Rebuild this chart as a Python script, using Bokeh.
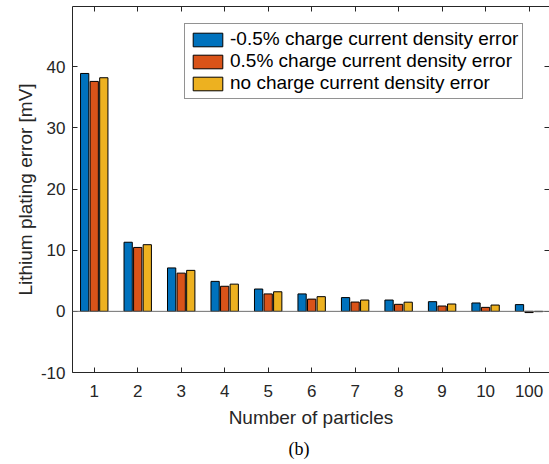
from bokeh.plotting import figure
from bokeh.models import LinearAxis, FixedTicker, Span, Title, Range1d
from bokeh.embed import file_html
from bokeh.resources import INLINE

# ---- data ----
categories = ["1", "2", "3", "4", "5", "6", "7", "8", "9", "10", "100"]
series_names = ["-0.5% charge current density error",
                "0.5% charge current density error",
                "no charge current density error"]
neg_err = [38.9, 11.3, 7.1, 4.9, 3.65, 2.85, 2.25, 1.85, 1.58, 1.37, 1.1]
pos_err = [37.6, 10.45, 6.25, 4.1, 2.85, 2.0, 1.52, 1.15, 0.87, 0.65, -0.2]
no_err = [38.2, 10.9, 6.7, 4.45, 3.2, 2.4, 1.85, 1.5, 1.2, 1.03, -0.05]
y_ticks = [-10, 0, 10, 20, 30, 40]
y_tick_labels = ["-10", "0", "10", "20", "30", "40"]

colors = ["#0072BD", "#D95319", "#EDB120"]
offsets = [-0.22, 0.0, 0.22]
axis_col = "#262626"
FONT = "Liberation Sans"

positions = list(range(1, len(categories) + 1))

p = figure(frame_width=477, frame_height=366, output_backend="svg", toolbar_location=None,
           x_range=Range1d(0.5, 11.47), y_range=Range1d(-10, 49.85),
           min_border_left=72, min_border_right=0, min_border_top=6,
           min_border_bottom=80)
p.outline_line_color = None
p.xgrid.visible = False
p.ygrid.visible = False
p.border_fill_color = "white"

for vals, col, off, name in zip([neg_err, pos_err, no_err], colors, offsets, series_names):
    p.vbar(x=[q + off for q in positions], top=vals, bottom=0, width=0.19,
           fill_color=col, line_color="black", line_width=1, legend_label=name)

p.add_layout(Span(location=0, dimension="width", line_color="#6e6e6e", line_width=1))

def style_axis(ax, labels=True):
    ax.axis_line_color = axis_col
    ax.axis_line_width = 1
    ax.major_tick_line_color = axis_col
    ax.major_tick_in = 5
    ax.major_tick_out = 0
    ax.minor_tick_line_color = None
    ax.major_label_text_font = FONT
    ax.major_label_text_font_size = "17px"
    ax.major_label_text_color = axis_col
    ax.axis_label_text_font = FONT
    ax.axis_label_text_font_size = "19px"
    ax.axis_label_text_font_style = "normal"
    ax.axis_label_text_color = axis_col
    if not labels:
        ax.major_label_text_font_size = "0px"
        ax.major_label_text_color = None
        ax.major_label_standoff = 0

xax = p.xaxis[0]
style_axis(xax)
xax.ticker = FixedTicker(ticks=positions)
xax.major_label_overrides = {q: c for q, c in zip(positions, categories)}
xax.axis_label = "Number of particles"
xax.major_label_standoff = 12
xax.axis_label_standoff = 7

yax = p.yaxis[0]
style_axis(yax)
yax.ticker = FixedTicker(ticks=y_ticks)
yax.major_label_overrides = {q: c for q, c in zip(y_ticks, y_tick_labels)}
yax.axis_label = "Lithium plating error [mV]"
yax.major_label_standoff = 7
yax.axis_label_standoff = 2

top_ax = LinearAxis(ticker=FixedTicker(ticks=positions))
style_axis(top_ax, labels=False)
p.add_layout(top_ax, "above")

right_ax = LinearAxis(ticker=FixedTicker(ticks=y_ticks))
style_axis(right_ax, labels=False)
right_ax.axis_line_color = None
p.add_layout(right_ax, "right")

cap = Title(text="(b)", align="left", text_font="Liberation Serif",
            text_font_size="18px", text_font_style="normal", text_color="black",
            offset=216, standoff=13)
p.add_layout(cap, "below")

lg = p.legend[0]
lg.location = (112, 273)
lg.border_line_color = axis_col
lg.border_line_width = 1
lg.background_fill_alpha = 1
lg.padding = 4
lg.spacing = 0
lg.margin = 0
lg.glyph_width = 37
lg.glyph_height = 17
lg.label_height = 17
lg.label_standoff = 4
lg.label_text_font = FONT
lg.label_text_font_size = "19px"
lg.label_text_color = "black"

open("out.html", "w").write(file_html(p, INLINE))
